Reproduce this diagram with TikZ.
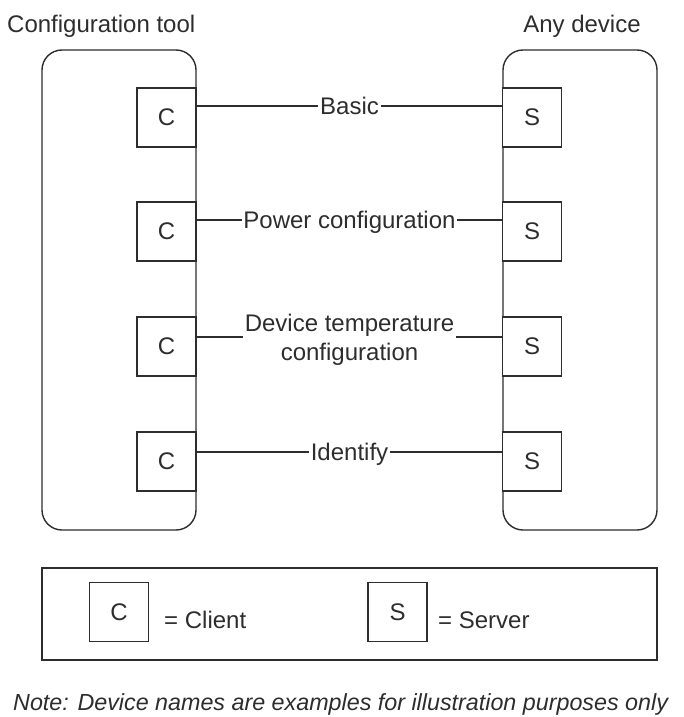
\documentclass[tikz,border=0pt]{standalone}
\usepackage{fontspec}
\setmainfont{Liberation Sans}
\definecolor{inkc}{RGB}{45,45,45}
\begin{document}
\begin{tikzpicture}[x=1pt,y=-1pt,
  every node/.style={font=\fontsize{24}{29}\selectfont, text=inkc},
  ink/.style={draw=inkc, line width=1.4pt},
  cont/.style={ink, rounded corners=20pt, minimum width=154pt, minimum height=480pt, inner sep=0pt},
  box/.style={ink, fill=white, minimum width=59pt, minimum height=59pt, inner sep=0pt},
  lbl/.style={inner xsep=1.5pt, inner ysep=0pt, text depth=0pt},
  onelbl/.style={lbl, text height=17.2pt},
  title/.style={inner sep=0pt, text height=17.2pt, text depth=0pt},
  conn/.style={ink}]
\useasboundingbox (0,0) rectangle (684,717);

% titles
\node[title, anchor=west] (ttool) at (7,24) {Configuration tool};
\node[title] (tdev) at (582,24) {Any device};

% containers
\node[cont] (tool) at (119,290) {};
\node[cont] (dev) at (580,290) {};

% client boxes
\node[box] (c1) at (166.5,117.5) {C};
\node[box] (c2) at (166.5,231.5) {C};
\node[box] (c3) at (166.5,346.5) {C};
\node[box] (c4) at (166.5,461.5) {C};

% server boxes
\node[box] (s1) at (532,117.5) {S};
\node[box] (s2) at (532,231.5) {S};
\node[box] (s3) at (532,346.5) {S};
\node[box] (s4) at (532,461.5) {S};

% labels
\node[onelbl] (l1) at (349.5,106) {Basic};
\node[onelbl] (l2) at (349.5,220) {Power configuration};
\node[lbl, align=center] (l3) at (349.5,337) {Device temperature\\configuration};
\node[onelbl] (l4) at (349.5,452) {Identify};

% connectors
\draw[conn] (c1.east |- l1) -- (l1) -- (s1.west |- l1);
\draw[conn] (c2.east |- l2) -- (l2) -- (s2.west |- l2);
\draw[conn] (c3.east |- l3) -- (l3) -- (s3.west |- l3);
\draw[conn] (c4.east |- l4) -- (l4) -- (s4.west |- l4);

% legend
\node[ink, minimum width=615pt, minimum height=92pt, inner sep=0pt] (legend) at (349.5,614) {};
\node[box] (lc) at (119,612) {C};
\node[onelbl, anchor=west, inner xsep=0pt] (lct) at (164,620) {= Client};
\node[box] (ls) at (397.5,612) {S};
\node[onelbl, anchor=west, inner xsep=0pt] (lst) at (438,620) {= Server};

% note
\node[inner sep=0pt, text height=16.8pt, text depth=0pt, anchor=west, font=\fontsize{23.3}{28}\selectfont\itshape] (note) at (13,702) {Note: Device names are examples for illustration purposes only};
\end{tikzpicture}
\end{document}
